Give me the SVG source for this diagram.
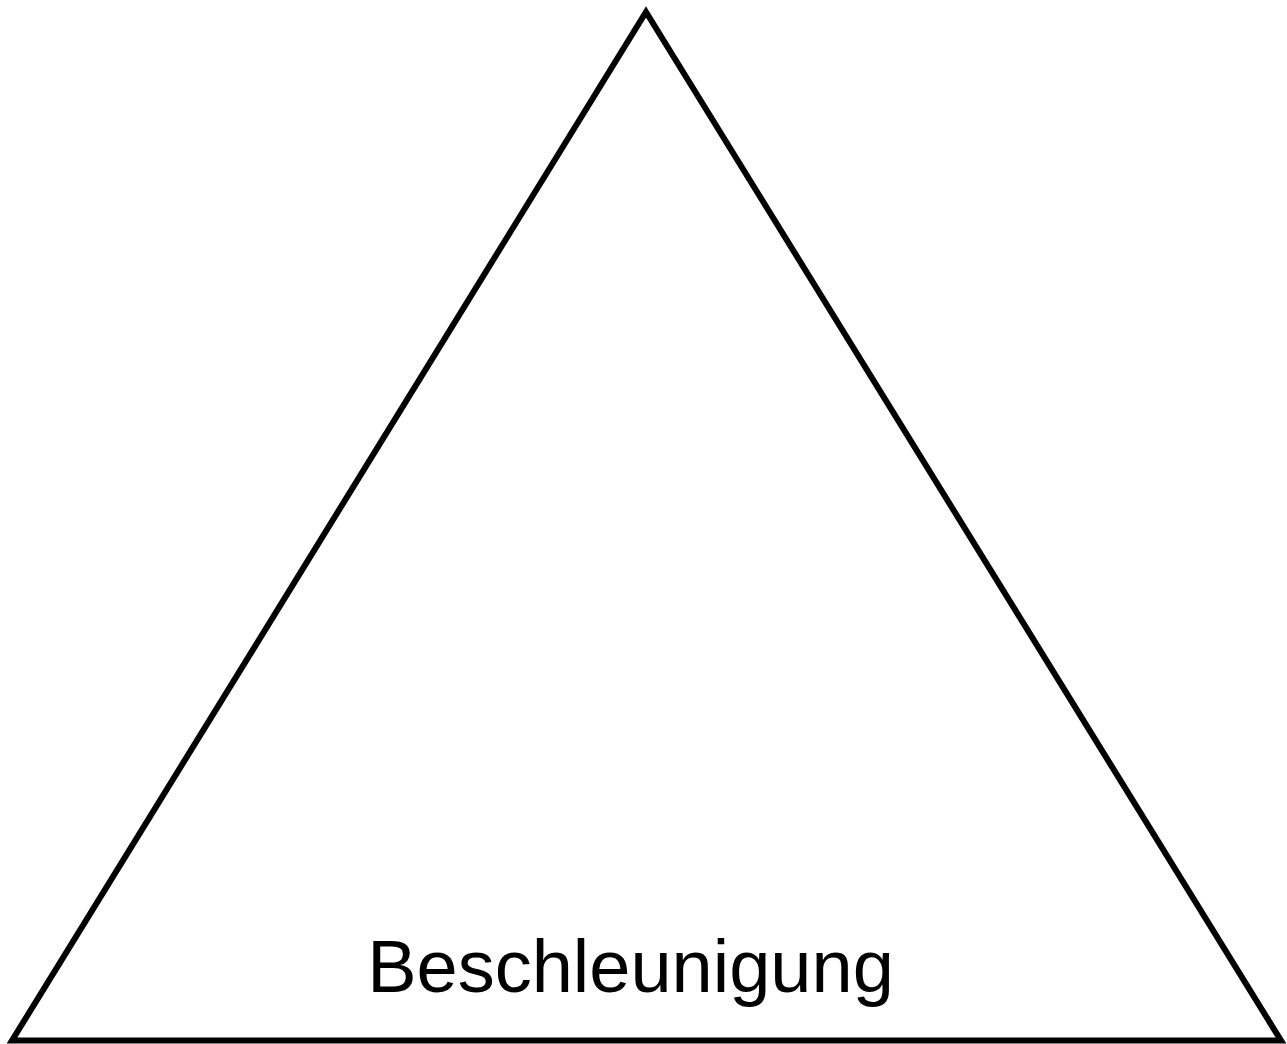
<svg xmlns="http://www.w3.org/2000/svg" width="1287" height="1044" viewBox="0 0 1287 1044">
<style>
.shape{fill:#fff;stroke:#000;stroke-width:6;stroke-linejoin:miter;stroke-miterlimit:10}
.label{font-family:"Liberation Sans",Arial,sans-serif;font-size:74px;fill:#000;text-anchor:middle}
</style>
<rect width="1287" height="1044" fill="#fff"/>
<g id="triangle">
<polygon class="shape" points="646,12 1281,1040.5 12,1040.5"/>
<text class="label" x="630.5" y="992">Beschleunigung</text>
</g>
<g id="connectors"/>
</svg>
